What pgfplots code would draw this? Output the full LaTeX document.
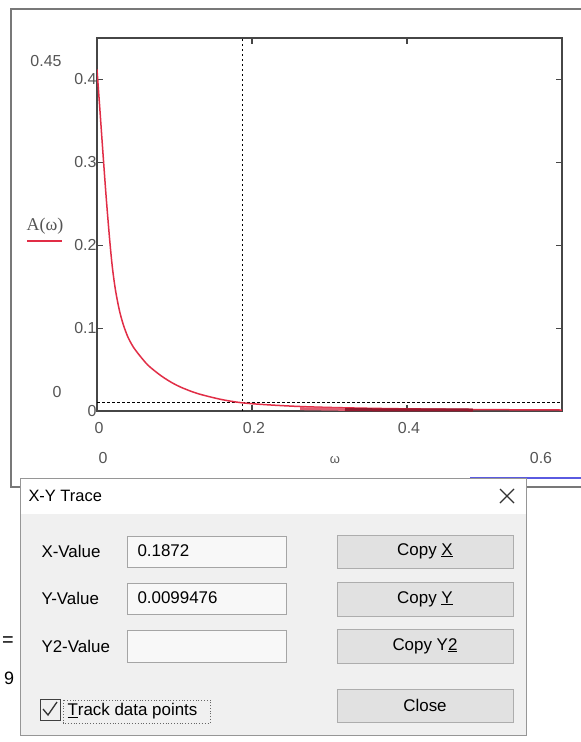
\documentclass[border=0pt]{standalone}
\usepackage{fontspec}
\setmainfont{Liberation Sans}
\newfontfamily\seriffont{Liberation Serif}
\usepackage{pgfplots}
\pgfplotsset{compat=1.18}
\definecolor{curvered}{RGB}{225,45,70}
\definecolor{darkred}{RGB}{150,25,45}
\definecolor{pinkred}{RGB}{225,95,115}
\definecolor{axisgray}{RGB}{70,70,70}
\definecolor{labelgray}{RGB}{85,85,85}
\definecolor{framegray}{RGB}{120,120,120}
\definecolor{dlgbg}{RGB}{240,240,240}
\definecolor{dlgborder}{RGB}{150,150,150}
\definecolor{fieldbg}{RGB}{248,248,248}
\definecolor{fieldborder}{RGB}{165,165,165}
\definecolor{btnbg}{RGB}{225,225,225}
\definecolor{btnborder}{RGB}{173,173,173}
\definecolor{traceblue}{RGB}{90,90,225}

\newcommand{\tk}{\fontsize{16}{16}\selectfont}
\newcommand{\dl}{\fontsize{17}{17}\selectfont}

\begin{document}
\begin{tikzpicture}
\clip (0bp,0bp) rectangle (581bp,-742bp);
\fill[white] (0bp,0bp) rectangle (581bp,-742bp);
\begin{scope}[x=1bp,y=-1bp]
% mathcad region frame
\draw[framegray, line width=1.6bp] (600,9) -- (11,9) -- (11,487) -- (600,487);
\draw[traceblue, line width=1.6bp] (470,478) -- (600,478);
% fragments of the worksheet behind the dialog
\node[font=\fontsize{20}{20}\selectfont] at (8,642) {=};
\node[font=\fontsize{18}{18}\selectfont] at (9,678) {9};
\end{scope}

\begin{axis}[
    at={(97bp,-411bp)}, anchor=south west,
    scale only axis, width=465bp, height=373bp,
    xmin=0, xmax=0.6, ymin=0, ymax=0.45,
    xtick={0,0.2,0.4}, ytick={0,0.1,0.2,0.3,0.4},
    tick align=inside, major tick length=6bp,
    axis line style={draw=axisgray, line width=1.6bp},
    tick style={draw=axisgray, line width=1.2bp},
    ticklabel style={font=\tk, text=labelgray},
    /pgf/number format/assume math mode=true,
    xticklabel style={yshift=-8bp, xshift=2bp},
    yticklabel style={xshift=3bp},
]
% trace cursor lines
\addplot[black, line width=1.1bp, dash pattern=on 2.5bp off 2.5bp] coordinates {(0.1872,0)(0.1872,0.45)};
\addplot[black, line width=1.1bp, dash pattern=on 2.5bp off 2.5bp] coordinates {(0,0.0099476)(0.6,0.0099476)};
% A(omega)
\addplot[curvered, line width=1.5bp, smooth] coordinates {
 (0,0.412)(0.004,0.36)(0.008,0.307)(0.012,0.256)(0.0165,0.205)(0.020,0.172)
 (0.024,0.145)(0.029,0.121)(0.034,0.104)(0.040,0.089)(0.047,0.077)(0.055,0.067)
 (0.065,0.056)(0.075,0.048)(0.085,0.041)(0.097,0.034)(0.11,0.028)(0.13,0.021)
 (0.16,0.014)(0.1872,0.0099)(0.22,0.0075)(0.26,0.0055)(0.3,0.0043)(0.35,0.0033)
 (0.4,0.0026)(0.5,0.0017)(0.6,0.0012)};
\addplot[pinkred, line width=3bp] coordinates {(0.262,0.0028)(0.32,0.0020)};
\addplot[darkred, line width=3bp] coordinates {(0.32,0.0016)(0.485,0.0012)};
\end{axis}

\begin{scope}[x=1bp,y=-1bp]
% Mathcad limit labels
\node[text=labelgray, font=\tk] at (46,61) {0.45};
\node[text=labelgray, font=\tk] at (57,392) {0};
\node[text=labelgray, font=\tk] at (103,458) {0};
\node[text=labelgray, font=\fontsize{13}{13}\selectfont] at (335,460) {ω};
\node[text=labelgray, font=\tk] at (541,458) {0.6};
\node[text=labelgray, font=\seriffont\fontsize{18}{18}\selectfont] at (45,226) {A(ω)};
\draw[curvered, line width=1.5bp] (27,241) -- (62,241);

% X-Y Trace dialog
\filldraw[fill=dlgbg, draw=dlgborder, line width=1bp] (20,478) rectangle (526,735);
\fill[white] (20.5,478.5) rectangle (525.5,514);
\node[anchor=west, font=\fontsize{16.5}{16.5}\selectfont] at (25,496) {X-Y Trace};
\draw[black!80, line width=1.2bp] (500,489) -- (514,503) (500,503) -- (514,489);

\node[anchor=west, font=\dl] at (38,551) {X-Value};
\node[anchor=west, font=\dl] at (38,598) {Y-Value};
\node[anchor=west, font=\dl] at (38,646) {Y2-Value};

\filldraw[fill=fieldbg, draw=fieldborder, line width=1bp] (127,536) rectangle (286,567);
\filldraw[fill=fieldbg, draw=fieldborder, line width=1bp] (127,583) rectangle (286,614);
\filldraw[fill=fieldbg, draw=fieldborder, line width=1bp] (127,630) rectangle (286,662);
\node[anchor=west, font=\dl] at (134,551) {0.1872};
\node[anchor=west, font=\dl] at (134,598) {0.0099476};

\filldraw[fill=btnbg, draw=btnborder, line width=1bp] (337,535) rectangle (513,568);
\filldraw[fill=btnbg, draw=btnborder, line width=1bp] (337,582) rectangle (513,616);
\filldraw[fill=btnbg, draw=btnborder, line width=1bp] (337,629) rectangle (513,663);
\filldraw[fill=btnbg, draw=btnborder, line width=1bp] (337,689) rectangle (513,722);
\node[font=\dl] at (425,551) {Copy \underline{X}};
\node[font=\dl] at (425,599) {Copy \underline{Y}};
\node[font=\dl] at (425,646) {Copy Y\underline{2}};
\node[font=\dl] at (425,705) {Close};

\draw[black!75, line width=1bp] (40,699) rectangle (60,720);
\draw[black!80, line width=1.3bp] (43,709) -- (48,715) -- (57,702);
\draw[black!60, line width=0.8bp, dotted] (63,700) rectangle (210,723);
\node[anchor=west, font=\dl] at (64,711) {\underline{T}rack data points};
\end{scope}
\end{tikzpicture}
\end{document}
